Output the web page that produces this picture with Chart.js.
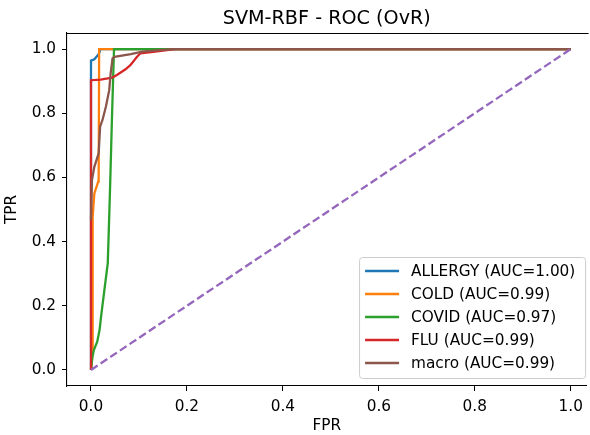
<!DOCTYPE html>
<html>
<head>
<meta charset="utf-8">
<script src="https://cdn.jsdelivr.net/npm/chart.js@4.4.0/dist/chart.umd.min.js"></script>
<style>
html,body{margin:0;padding:0;background:#fff;overflow:hidden;}
#wrap{width:590px;height:435px;}
</style>
</head>
<body>
<div id="wrap"><canvas id="c" width="590" height="435"></canvas></div>
<script>
// ---- data ----
const chartTitle = "SVM-RBF - ROC (OvR)";
const xLabel = "FPR";
const yLabel = "TPR";
const xTicks = [0.0, 0.2, 0.4, 0.6, 0.8, 1.0];
const yTicks = [0.0, 0.2, 0.4, 0.6, 0.8, 1.0];
const xRange = [-0.05, 1.033];   // visible part of the x axis (right side is cut off)
const yRange = [-0.05, 1.05];
const seriesNames = ["ALLERGY", "COLD", "COVID", "FLU", "macro"];
const seriesAuc = [1.00, 0.99, 0.97, 0.99, 0.99];

const allergyFpr = [0, 0, 0.007, 0.016, 0.020, 1.0];
const allergyTpr = [0, 0.964, 0.968, 0.984, 1.0, 1.0];

const coldFpr = [0, 0.003, 0.003, 0.004, 0.007, 0.015, 0.016, 0.017, 1.0];
const coldTpr = [0, 0.05, 0.45, 0.478, 0.55, 0.587, 0.592, 1.0, 1.0];

const covidFpr = [0, 0.003, 0.006, 0.013, 0.018, 0.021, 0.028, 0.035, 0.038, 0.040, 0.042, 0.044, 0.048, 1.0];
const covidTpr = [0, 0.04, 0.062, 0.088, 0.125, 0.166, 0.25, 0.333, 0.478, 0.58, 0.69, 0.80, 1.0, 1.0];

const fluFpr = [0, 0, 0.020, 0.044, 0.054, 0.072, 0.082, 0.096, 0.103, 0.134, 0.175, 1.0];
const fluTpr = [0, 0.903, 0.905, 0.911, 0.919, 0.937, 0.950, 0.976, 0.987, 0.992, 1.0, 1.0];

const macroFpr = [0, 0.002, 0.007, 0.016, 0.019, 0.024, 0.031, 0.038, 0.041, 0.045, 0.049, 0.083, 0.107, 0.142, 0.175, 1.0];
const macroTpr = [0.467, 0.592, 0.633, 0.675, 0.758, 0.779, 0.820, 0.872, 0.924, 0.971, 0.976, 0.984, 0.992, 0.997, 1.0, 1.0];

const chanceFpr = [0, 1];
const chanceTpr = [0, 1];

const seriesColors = ["#1f77b4", "#ff7f0e", "#2ca02c", "#d62728", "#8c564b"];
const chanceColor = "#9467bd";

// ---- build ----
const pts = (xs, ys) => xs.map((x, i) => ({x: x, y: ys[i]}));
const curves = [
  pts(allergyFpr, allergyTpr),
  pts(coldFpr, coldTpr),
  pts(covidFpr, covidTpr),
  pts(fluFpr, fluTpr),
  pts(macroFpr, macroTpr)
];
const FONT = "'DejaVu Sans', sans-serif";
const datasets = curves.map((d, i) => ({
  label: seriesNames[i] + " (AUC=" + seriesAuc[i].toFixed(2) + ")",
  data: d,
  borderColor: seriesColors[i],
  backgroundColor: seriesColors[i],
  borderWidth: 2.3,
  pointRadius: 0,
  showLine: true,
  tension: 0,
  fill: false,
  order: 10 - i,
  isLegend: true
}));
datasets.push({
  label: "chance",
  data: pts(chanceFpr, chanceTpr),
  borderColor: chanceColor,
  borderWidth: 2.3,
  borderDash: [8, 3.6],
  pointRadius: 0,
  showLine: true,
  tension: 0,
  fill: false,
  order: 1,
  isLegend: false
});

// top spine only (right spine lies outside the picture)
const framePlugin = {
  id: 'frame',
  afterDatasetsDraw(chart) {
    const a = chart.chartArea, ctx = chart.ctx;
    ctx.save();
    ctx.strokeStyle = '#000';
    ctx.lineWidth = 1.1;
    ctx.beginPath();
    ctx.moveTo(a.left, a.top + 0.5);
    ctx.lineTo(a.right + 2, a.top + 0.5);
    ctx.stroke();
    ctx.restore();
  }
};

const legendPlugin = {
  id: 'mplLegend',
  afterDraw(chart) {
    const a = chart.chartArea, ctx = chart.ctx;
    const items = chart.data.datasets.filter(d => d.isLegend);
    const boxW = 226, rowH = 23;
    const boxH = 14 + rowH * (items.length - 1) + 14 + 1;
    const right = a.right - 1.5, bottom = a.bottom - 8;
    const x0 = right - boxW, y0 = bottom - boxH;
    ctx.save();
    ctx.beginPath();
    ctx.roundRect(x0 + 0.5, y0 + 0.5, boxW, boxH, 3);
    ctx.fillStyle = 'rgba(255,255,255,0.8)';
    ctx.fill();
    ctx.strokeStyle = '#cccccc';
    ctx.lineWidth = 1;
    ctx.stroke();
    ctx.font = "15.3px " + FONT;
    ctx.textBaseline = 'middle';
    ctx.textAlign = 'left';
    items.forEach((d, i) => {
      const y = y0 + 14 + rowH * i;
      ctx.beginPath();
      ctx.moveTo(x0 + 6, y);
      ctx.lineTo(x0 + 40, y);
      ctx.strokeStyle = d.borderColor;
      ctx.lineWidth = 2.3;
      ctx.stroke();
      ctx.fillStyle = '#000';
      ctx.fillText(d.label, x0 + 52, y + 1);
    });
    ctx.restore();
  }
};

new Chart(document.getElementById('c'), {
  type: 'scatter',
  data: { datasets: datasets },
  options: {
    responsive: false,
    animation: false,
    layout: { padding: { left: 0, right: 0, top: 0, bottom: 0 } },
    plugins: {
      legend: { display: false },
      tooltip: { enabled: false },
      title: {
        display: true,
        text: chartTitle,
        fullSize: false,
        color: '#000',
        font: { family: FONT, size: 19.2, weight: 'normal' },
        padding: { top: 7, bottom: 3 }
      }
    },
    scales: {
      x: {
        type: 'linear',
        min: xRange[0], max: xRange[1],
        afterFit(s) { s.height = 49; },
        afterBuildTicks(s) { s.ticks = xTicks.map(v => ({value: v})); },
        border: { display: true, color: '#000', width: 1.1 },
        grid: { display: true, drawOnChartArea: false, drawTicks: true, tickLength: 5, tickColor: '#000', tickWidth: 1 },
        ticks: { color: '#000', padding: 7, font: { family: FONT, size: 15.3 }, maxRotation: 0, autoSkip: false,
                 callback: v => Number(v).toFixed(1) },
        title: { display: true, text: xLabel, color: '#000', font: { family: FONT, size: 15.3 }, padding: { top: 0, bottom: 0 } }
      },
      y: {
        type: 'linear',
        min: yRange[0], max: yRange[1],
        afterFit(s) { s.width = 67; },
        afterBuildTicks(s) { s.ticks = yTicks.map(v => ({value: v})); },
        border: { display: true, color: '#000', width: 1.1 },
        grid: { display: true, drawOnChartArea: false, drawTicks: true, tickLength: 5, tickColor: '#000', tickWidth: 1 },
        ticks: { color: '#000', padding: 6, font: { family: FONT, size: 15.3 }, autoSkip: false,
                 callback: v => Number(v).toFixed(1) },
        title: { display: true, text: yLabel, color: '#000', font: { family: FONT, size: 15.3 }, padding: { top: 3, bottom: 0 } }
      }
    }
  },
  plugins: [framePlugin, legendPlugin]
});
</script>
</body>
</html>
